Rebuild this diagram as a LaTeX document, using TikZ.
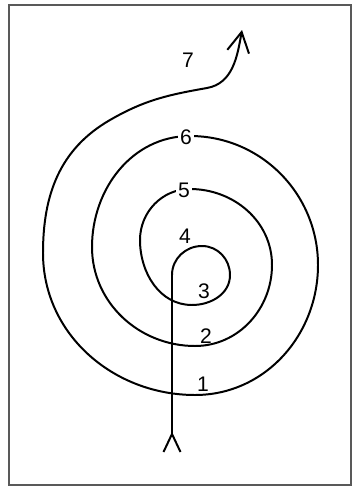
\documentclass[tikz,border=0pt]{standalone}
\usepackage{fontspec}
\setmainfont{Liberation Sans}
\usepackage{tikz}
\usetikzlibrary{arrows.meta}

\begin{document}
\begin{tikzpicture}[
  x=0.3mm, y=-0.3mm,
  spiral/.style={line width=1.7pt, line cap=round, line join=round},
  turnlabel/.style={inner sep=1pt, font=\fontsize{18}{20}\selectfont},
  cutlabel/.style={turnlabel, fill=white, inner sep=2pt},
  framebox/.style={draw=black!65, line width=1.2pt}
]
  \useasboundingbox (0,0) rectangle (353,487);
  \draw[framebox] (9,5) rectangle (351,485);

  % path points
  \coordinate (tail) at (172,453);
  \coordinate (tip)  at (242,30);

  \draw[spiral, {Straight Barb[reversed,length=5.4mm,width=5.1mm]}-{Straight Barb[length=6mm,width=6.6mm]}]
    (tail) -- (172,275)
    to[out=90,in=180]  (202,246)
    to[out=0,in=90]    (230,275)
    to[out=-90,in=0]   (192,305)
    to[out=180,in=-90] (140,240)
    to[out=90,in=180]  (190,189)
    to[out=0,in=90]    (272,265)
    to[out=-90,in=0]   (195,346)
    to[out=180,in=-90] (92,247)
    to[out=90,in=180]  (190,136)
    to[out=0,in=90]    (318,265)
    to[out=-90,in=0]   (195,395)
    to[out=180,in=-90] (43,253)
    to[out=90,in=210]  (110,120)
    to[out=30,in=190]  (207,88)
    to[out=10,in=-100] (tip);

  \node[turnlabel] (one)   at (203,384) {1};
  \node[turnlabel] (two)   at (206,336) {2};
  \node[turnlabel] (three) at (204,291) {3};
  \node[turnlabel] (four)  at (185,236) {4};
  \node[cutlabel]  (five)  at (184,190) {5};
  \node[cutlabel]  (six)   at (186,137) {6};
  \node[turnlabel] (seven) at (188,60)  {7};
\end{tikzpicture}
\end{document}
